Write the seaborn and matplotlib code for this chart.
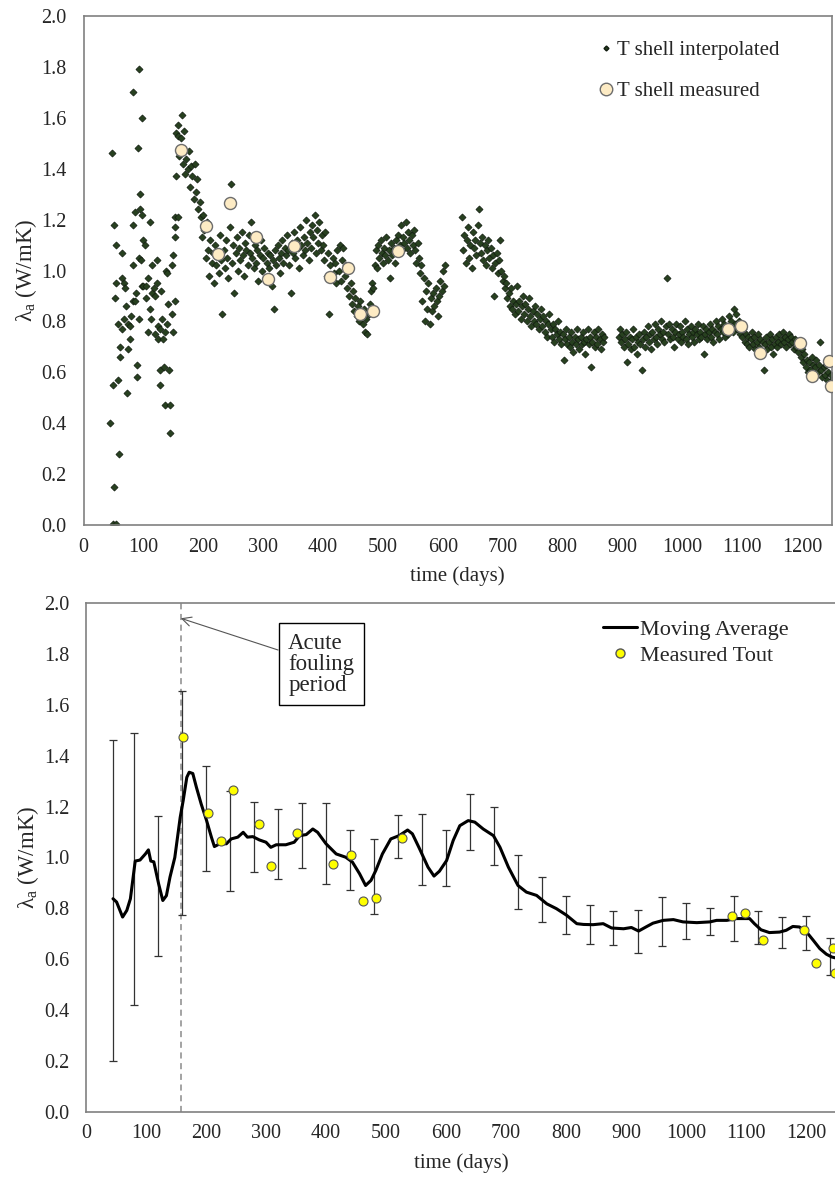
import numpy as np
import pandas as pd
import matplotlib
matplotlib.use("Agg")
import matplotlib.pyplot as plt
from matplotlib.lines import Line2D
import seaborn as sns

# ---- top panel: interpolated shell data ----
EARLY_DAYS = [45, 47, 49, 50, 51, 51, 52, 54, 54, 55, 57, 58, 59, 61, 61, 64, 64, 64,
              67, 67, 70, 71, 73, 75, 75, 77, 78, 80, 82, 82, 83, 83, 86, 86, 88, 89,
              90, 91, 92, 93, 93, 94, 94, 96, 97, 98, 98, 100, 100, 102, 105, 105, 108,
              108, 111, 111, 113, 114, 114, 117, 119, 120, 122, 123, 124, 125, 127, 128,
              128, 130, 131, 133, 134, 136, 136, 137, 139, 139, 141, 143, 144, 145, 147,
              148, 149, 150, 152, 152, 153, 153, 154, 155, 157, 157, 158]
EARLY_VALS = [0.40, 1.46, 0.005, 0.55, 0.15, 1.18, 0.89, 0.005, 1.10, 0.95, 0.57, 0.79, 0.28,
              0.66, 0.70, 1.07, 0.97, 0.77, 0.95, 0.81, 0.93, 0.86, 0.52, 0.79, 0.69, 0.73,
              0.78, 0.82, 0.88, 1.18, 1.02, 1.70, 0.88, 1.23, 0.91, 0.63, 0.58, 1.48, 0.81,
              1.79, 1.05, 1.24, 1.30, 1.04, 1.60, 1.22, 0.94, 1.12, 0.94, 1.10, 0.94, 0.89,
              0.97, 0.76, 1.19, 0.85, 0.81, 1.02, 0.91, 0.93, 0.75, 0.90, 0.95, 1.04, 0.78,
              0.73, 0.55, 0.61, 0.77, 0.92, 0.81, 0.73, 0.62, 0.76, 0.47, 1.00, 0.79, 0.99,
              0.87, 0.61, 0.36, 0.47, 0.83, 1.02, 0.76, 1.06, 1.13, 1.17, 0.88, 1.21, 1.37,
              1.54, 1.21, 1.57, 1.53]

# daily series sampled every 2 days, one list per continuous stretch
STEP = 2
SEG_A_START = 160
SEG_A = [1.45, 1.52, 1.61, 1.42, 1.55, 1.38, 1.44, 1.40, 1.47, 1.33, 1.41, 1.37, 1.28, 1.42,
         1.31, 1.36, 1.24, 1.27, 1.21, 1.13, 1.22, 1.16, 1.05, 1.19, 1.08, 0.98, 1.12, 1.03,
         1.07, 0.95, 1.10, 1.02, 1.06, 0.99, 1.14, 1.04, 0.83, 1.08, 1.01, 1.12, 1.05, 0.97,
         1.17, 1.34, 1.03, 1.10, 0.91, 1.07, 1.13, 1.00, 1.09, 1.04, 1.15, 1.06, 0.98, 1.11,
         1.08, 1.02, 1.14, 1.07, 1.19, 1.05, 1.01, 1.10, 1.03, 1.08, 0.96, 1.06, 1.12, 1.00,
         1.05, 1.09, 0.97, 1.03, 1.07, 1.01, 1.06, 0.94, 1.04, 0.85, 1.08, 1.02, 1.10, 1.05,
         0.99, 1.07, 1.12, 1.03, 1.09, 1.06, 1.14, 1.08, 1.02, 0.91, 1.11, 1.07, 1.15, 1.05,
         1.12, 1.09, 1.01, 1.17, 1.10, 1.06, 1.13, 1.08, 1.20, 1.11, 1.04, 1.15, 1.09, 1.18,
         1.13, 1.22, 1.07, 1.16, 1.11, 1.19, 1.08, 1.14]
SEG_B_START = 400
SEG_B = [1.10, 1.04, 1.15, 0.98, 1.07, 0.83, 1.02, 0.97, 1.05, 0.99, 1.03, 0.95, 1.08, 1.00,
         1.10, 0.96, 1.04, 1.09, 0.98, 1.02, 0.93, 1.00, 0.90, 0.95, 0.87, 0.92, 0.84, 0.89,
         0.82, 0.86, 0.80, 0.88, 0.83, 0.79, 0.85, 0.76, 0.81, 0.75, 0.83, 0.87, 0.92, 0.95,
         0.93, 1.02, 1.08, 1.01, 1.10, 1.05, 1.12, 1.07, 1.03, 1.09, 1.06, 1.13, 1.04, 1.08,
         0.97, 1.11, 1.06, 1.09, 1.03, 1.12, 1.07, 1.14, 1.10, 1.18, 1.08, 1.13, 1.11, 1.19,
         1.09, 1.15, 1.12, 1.07, 1.14, 1.10, 1.16, 1.08, 1.03, 1.11, 1.05, 0.99, 1.02, 0.88,
         0.97, 0.80, 0.92, 0.85, 0.95, 0.79, 0.89, 0.84, 0.91, 0.86, 0.93, 0.88, 0.82, 0.90,
         0.96, 0.92, 1.00, 0.94, 1.02]
SEG_C_START = 632
SEG_C = [1.21, 1.08, 1.14, 1.03, 1.12, 1.17, 1.05, 1.10, 1.01, 1.15, 1.09, 1.12, 1.06, 1.18,
         1.24, 1.11, 1.07, 1.13, 1.04, 1.10, 1.02, 1.08, 1.12, 1.05, 1.09, 1.01, 1.06, 0.90,
         1.03, 1.07, 0.99, 1.04, 1.12, 1.00, 0.96, 0.98, 0.93, 0.95, 0.89, 0.91, 0.86, 0.93,
         0.85, 0.88, 0.83, 0.87, 0.94, 0.84, 0.88, 0.81, 0.86, 0.90, 0.83, 0.87, 0.80, 0.85,
         0.89, 0.82, 0.78, 0.84, 0.80, 0.86, 0.79, 0.83, 0.77, 0.81, 0.85, 0.78, 0.82, 0.76,
         0.80, 0.74, 0.79, 0.83, 0.77, 0.74, 0.79, 0.72, 0.77, 0.75, 0.80, 0.73, 0.76, 0.71,
         0.75, 0.65, 0.73, 0.77, 0.71, 0.74, 0.70, 0.76, 0.72, 0.68, 0.74, 0.71, 0.77, 0.73,
         0.69, 0.74, 0.71, 0.76, 0.72, 0.67, 0.73, 0.77, 0.71, 0.74, 0.62, 0.72, 0.76, 0.70,
         0.74, 0.71, 0.77, 0.73, 0.69, 0.75, 0.72, 0.74]
SEG_D_START = 894
SEG_D = [0.74, 0.77, 0.72, 0.75, 0.70, 0.73, 0.76, 0.64, 0.71, 0.74, 0.69, 0.73, 0.77, 0.70,
         0.74, 0.67, 0.72, 0.75, 0.71, 0.61, 0.73, 0.76, 0.70, 0.74, 0.78, 0.72, 0.75, 0.69,
         0.76, 0.73, 0.79, 0.74, 0.71, 0.77, 0.75, 0.80, 0.73, 0.76, 0.72, 0.78, 0.97, 0.75,
         0.79, 0.73, 0.77, 0.74, 0.70, 0.76, 0.79, 0.73, 0.75, 0.78, 0.72, 0.76, 0.74, 0.80,
         0.73, 0.77, 0.71, 0.75, 0.78, 0.74, 0.76, 0.72, 0.77, 0.75, 0.79, 0.73, 0.76, 0.74,
         0.78, 0.67, 0.75, 0.77, 0.73, 0.76, 0.79, 0.74, 0.77, 0.72, 0.76, 0.80, 0.75, 0.78,
         0.73, 0.77, 0.81, 0.76, 0.79, 0.74, 0.78, 0.75, 0.82, 0.77, 0.80, 0.76, 0.85, 0.79,
         0.83, 0.77, 0.80, 0.75, 0.78, 0.74, 0.77, 0.72, 0.75, 0.71, 0.74, 0.70, 0.73, 0.76,
         0.71, 0.74, 0.69, 0.72, 0.75, 0.70, 0.73, 0.68, 0.72, 0.61, 0.71, 0.74, 0.69, 0.72,
         0.75, 0.70, 0.73, 0.67, 0.71, 0.74, 0.70, 0.72, 0.75, 0.71, 0.73, 0.76, 0.72, 0.74,
         0.70, 0.73, 0.75, 0.71, 0.74, 0.72, 0.69, 0.73, 0.70, 0.72, 0.68, 0.71, 0.66, 0.69,
         0.64, 0.67, 0.62, 0.65, 0.60, 0.64, 0.61, 0.66, 0.63, 0.59, 0.62, 0.65, 0.60, 0.63,
         0.72, 0.61, 0.58, 0.62, 0.59, 0.63, 0.57, 0.60, 0.56, 0.59, 0.57]

# ---- measured shell temperature points (both panels) ----
MEAS_DAYS = [162, 204, 225, 245, 288, 308, 351, 412, 442, 462, 484, 526,
             1076, 1098, 1129, 1197, 1217, 1245, 1248]
MEAS_VALS = [1.475, 1.175, 1.065, 1.265, 1.13, 0.965, 1.095, 0.975, 1.01, 0.83, 0.84, 1.075,
             0.77, 0.78, 0.675, 0.715, 0.585, 0.645, 0.545]

# ---- bottom panel: moving average ----
MA_DAYS = [45, 51, 61, 68, 74, 82, 90, 99, 104, 108, 113, 121, 128, 134, 140, 148, 157, 162,
           168, 172, 178, 184, 192, 201, 209, 214, 223, 234, 242, 253, 262, 269, 278, 289,
           300, 308, 317, 333, 347, 356, 367, 378, 386, 400, 417, 433, 444, 456, 466, 475,
           483, 494, 508, 522, 536, 544, 556, 570, 580, 589, 601, 612, 623, 637, 648, 662,
           679, 690, 704, 720, 734, 751, 768, 784, 801, 818, 829, 845, 862, 876, 896, 909,
           921, 934, 945, 962, 979, 995, 1018, 1040, 1051, 1068, 1084, 1106, 1114, 1125,
           1139, 1156, 1167, 1178, 1189, 1201, 1212, 1223, 1234, 1243, 1250]
MA_VALS = [0.838, 0.825, 0.766, 0.792, 0.838, 0.986, 0.99, 1.014, 1.03, 0.986, 0.983, 0.897,
           0.831, 0.85, 0.923, 1.0, 1.158, 1.224, 1.315, 1.335, 1.33, 1.276, 1.21, 1.145,
           1.08, 1.043, 1.054, 1.054, 1.073, 1.08, 1.099, 1.08, 1.082, 1.069, 1.06, 1.04,
           1.05, 1.05, 1.06, 1.086, 1.09, 1.112, 1.099, 1.054, 1.014, 1.001, 0.982, 0.936,
           0.89, 0.91, 0.949, 1.014, 1.073, 1.086, 1.108, 1.093, 1.034, 0.962, 0.927, 0.946,
           0.988, 1.067, 1.125, 1.145, 1.139, 1.112, 1.086, 1.04, 0.962, 0.89, 0.864, 0.851,
           0.818, 0.799, 0.773, 0.74, 0.737, 0.736, 0.74, 0.723, 0.72, 0.725, 0.711, 0.728,
           0.742, 0.753, 0.756, 0.747, 0.744, 0.747, 0.753, 0.753, 0.76, 0.76, 0.74, 0.716,
           0.705, 0.707, 0.714, 0.729, 0.727, 0.707, 0.675, 0.642, 0.62, 0.609, 0.605]

# ---- bottom panel: error bars ----
ERR_DAYS = [45, 80, 120, 160, 200, 240, 280, 320, 360, 400, 440, 480, 520, 560, 600, 640,
            680, 720, 760, 800, 840, 878, 920, 960, 1000, 1040, 1080, 1120, 1160, 1200, 1240]
ERR_MEAN = [0.83, 0.955, 0.887, 1.215, 1.153, 1.065, 1.08, 1.053, 1.087, 1.056, 0.99, 0.926,
            1.083, 1.03, 0.998, 1.139, 1.086, 0.905, 0.834, 0.775, 0.737, 0.722, 0.71, 0.749,
            0.75, 0.749, 0.759, 0.724, 0.704, 0.703, 0.611]
ERR_SIZE = [0.63, 0.535, 0.275, 0.44, 0.207, 0.198, 0.137, 0.137, 0.127, 0.159, 0.119, 0.147,
            0.084, 0.14, 0.111, 0.111, 0.114, 0.106, 0.088, 0.075, 0.078, 0.067, 0.085, 0.095,
            0.07, 0.052, 0.088, 0.065, 0.061, 0.068, 0.074]

ACUTE_DAY = 158


def seg_frame(start, vals):
    days = start + STEP * np.arange(len(vals))
    return pd.DataFrame({"day": days, "lam": vals})


def style_axis(ax, xmax):
    ax.set_xlim(0, xmax)
    ax.set_ylim(0, 2.0)
    ax.set_xticks(np.arange(0, 1201, 100))
    ax.set_yticks(np.arange(0, 2.01, 0.2))
    ax.yaxis.set_major_formatter(matplotlib.ticker.FormatStrFormatter("%.1f"))
    ax.tick_params(direction="in", length=5, width=1, color="#808080", labelsize=14.5)
    ax.tick_params(axis="x", pad=9)
    ax.tick_params(axis="y", pad=12)
    for s in ax.spines.values():
        s.set_color("#808080")
        s.set_linewidth(1.2)
    ax.set_xlabel("time (days)", fontsize=15, labelpad=7)
    ax.set_ylabel("λ$_{\\mathrm{a}}$ (W/mK)", fontsize=16.5, labelpad=2)


sns.set_theme(style="white")
plt.rcParams["font.family"] = ["Liberation Serif", "DejaVu Serif"]
plt.rcParams["mathtext.fontset"] = "custom"
plt.rcParams["mathtext.rm"] = "Liberation Serif"
plt.rcParams["mathtext.it"] = "Liberation Serif:italic"

interp = pd.concat([
    pd.DataFrame({"day": EARLY_DAYS, "lam": EARLY_VALS}),
    seg_frame(SEG_A_START, SEG_A),
    seg_frame(SEG_B_START, SEG_B),
    seg_frame(SEG_C_START, SEG_C),
    seg_frame(SEG_D_START, SEG_D),
], ignore_index=True)
meas = pd.DataFrame({"day": MEAS_DAYS, "lam": MEAS_VALS})
ma = pd.DataFrame({"day": MA_DAYS, "lam": MA_VALS})

W, H = 835, 1189
fig = plt.figure(figsize=(W / 100, H / 100), dpi=100)
ax1 = fig.add_axes([83.5 / W, 1 - 525 / H, (832 - 83.5) / W, (525 - 16) / H])
ax2 = fig.add_axes([86 / W, 1 - 1112 / H, 750 / W, (1112 - 603) / H])

# top panel
sns.scatterplot(data=interp, x="day", y="lam", ax=ax1, marker="D", s=13,
                color="#27401f", edgecolor="#101a0e", linewidth=0.5, zorder=2)
sns.scatterplot(data=meas, x="day", y="lam", ax=ax1, marker="o", s=75,
                color="#fdebc4", edgecolor="#6d6d6d", linewidth=1.0, zorder=3)
style_axis(ax1, 1250)
h1 = [Line2D([], [], ls="none", marker="D", ms=2.5, mfc="#27401f", mec="#101a0e"),
      Line2D([], [], ls="none", marker="o", ms=9, mfc="#fdebc4", mec="#6d6d6d")]
ax1.legend(h1, ["T shell interpolated", "T shell measured"], loc="upper left",
           bbox_to_anchor=(0.668, 0.985), frameon=False, fontsize=15, labelspacing=1.05,
           handlelength=0.6, handletextpad=0.2, borderpad=0.3)

# bottom panel
ax2.axvline(ACUTE_DAY, color="#8a8a8a", lw=1.1, ls=(0, (4, 3)), zorder=1)
ax2.errorbar(ERR_DAYS, ERR_MEAN, yerr=ERR_SIZE, fmt="none", ecolor="#333333",
             elinewidth=0.9, capsize=3, capthick=0.9, zorder=2)
sns.lineplot(data=ma, x="day", y="lam", ax=ax2, color="black", lw=2.2, zorder=3)
sns.scatterplot(data=meas, x="day", y="lam", ax=ax2, marker="o", s=42,
                color="#ffff00", edgecolor="#555555", linewidth=0.8, zorder=4)
style_axis(ax2, 1250)
h2 = [Line2D([], [], color="black", lw=2.2),
      Line2D([], [], ls="none", marker="o", ms=6.5, mfc="#ffff00", mec="#555555")]
ax2.legend(h2, ["Moving Average", "Measured Tout"], loc="upper left",
           bbox_to_anchor=(0.665, 1.003), frameon=False, fontsize=16, labelspacing=0.25,
           handlelength=1.55, handletextpad=0.15, borderpad=0.3)
ax2.annotate("Acute\nfouling\nperiod", xy=(ACUTE_DAY, 1.94), xytext=(337, 1.76),
             ha="left", va="center", fontsize=16.5, linespacing=1.0,
             bbox=dict(boxstyle="square,pad=0.42", fc="white", ec="black", lw=1.0),
             arrowprops=dict(arrowstyle="->", color="#555555", lw=0.8,
                             shrinkA=0, shrinkB=0))

fig.savefig("out.png", dpi=100)
